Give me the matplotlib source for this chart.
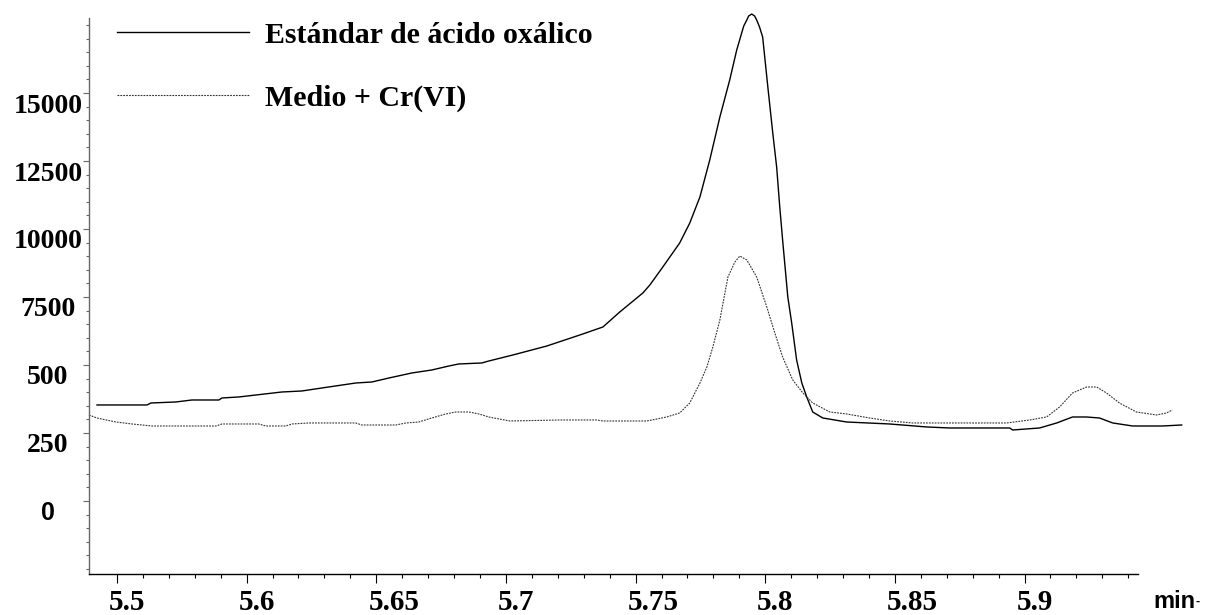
import numpy as np
import matplotlib.pyplot as plt
from matplotlib.transforms import ScaledTranslation

# Oxalic acid standard: retention time (min) and detector response
t_std = [5.5423, 5.5616, 5.5631, 5.5727, 5.5789, 5.5893, 5.5905, 5.5970, 5.6036,
         5.6136, 5.6213, 5.6290, 5.6421, 5.6483, 5.6549, 5.6637, 5.6714, 5.6780,
         5.6818, 5.6907, 5.6934, 5.7027, 5.7158, 5.7285, 5.7374, 5.7439, 5.7528,
         5.7555, 5.7605, 5.7670, 5.7709, 5.7748, 5.7786, 5.7825, 5.7863, 5.7890,
         5.7917, 5.7929, 5.7936, 5.7948, 5.7959, 5.7967, 5.7978, 5.7990, 5.8010,
         5.8029, 5.8044, 5.8056, 5.8067, 5.8087, 5.8102, 5.8121, 5.8141, 5.8160,
         5.8183, 5.8222, 5.8314, 5.8480, 5.8623, 5.8711, 5.8943, 5.8954, 5.9058,
         5.9124, 5.9185, 5.9239, 5.9289, 5.9340, 5.9417, 5.9532, 5.9606]
s_std = [3530, 3530, 3603, 3640, 3713, 3713, 3787, 3824, 3897,
         4007, 4044, 4154, 4338, 4375, 4522, 4706, 4816, 4963,
         5037, 5074, 5147, 5368, 5699, 6103, 6397, 6949, 7647,
         7941, 8603, 9485, 10221, 11176, 12537, 14118, 15478, 16581,
         17463, 17684, 17831, 17904, 17831, 17684, 17427, 17059, 15221,
         13529, 12279, 10809, 9596, 7500, 6544, 5184, 4338, 3824,
         3272, 3051, 2904, 2831, 2721, 2684, 2684, 2610, 2684,
         2868, 3088, 3088, 3051, 2868, 2757, 2757, 2794]

# Culture medium + Cr(VI)
t_med = [5.5392, 5.5423, 5.5496, 5.5558, 5.5635, 5.5882, 5.5905, 5.6047, 5.6074,
         5.6151, 5.6175, 5.6240, 5.6421, 5.6444, 5.6576, 5.6614, 5.6664, 5.6714,
         5.6768, 5.6807, 5.6857, 5.6896, 5.6934, 5.7015, 5.7208, 5.7350, 5.7374,
         5.7543, 5.7582, 5.7620, 5.7670, 5.7709, 5.7748, 5.7775, 5.7798, 5.7825,
         5.7856, 5.7883, 5.7902, 5.7929, 5.7967, 5.8006, 5.8037, 5.8067, 5.8106,
         5.8145, 5.8183, 5.8249, 5.8314, 5.8403, 5.8480, 5.8569, 5.8931, 5.9020,
         5.9085, 5.9135, 5.9185, 5.9239, 5.9278, 5.9316, 5.9366, 5.9431, 5.9509,
         5.9547, 5.9570]
s_med = [3162, 3051, 2904, 2831, 2757, 2757, 2831, 2831, 2757,
         2757, 2831, 2868, 2868, 2794, 2794, 2868, 2904, 3051,
         3199, 3272, 3272, 3199, 3088, 2941, 2978, 2978, 2941,
         2941, 3015, 3088, 3235, 3603, 4338, 4926, 5662, 6654,
         8235, 8787, 9007, 8860, 8235, 7132, 6176, 5294, 4449,
         3971, 3603, 3272, 3199, 3051, 2941, 2868, 2868, 2978,
         3088, 3456, 3971, 4191, 4191, 3971, 3603, 3272, 3162,
         3235, 3346]

xtick_pos = [5.55, 5.60, 5.65, 5.70, 5.75, 5.80, 5.85, 5.90]
xtick_lab = ['5.5', '5.6', '5.65', '5.7', '5.75', '5.8', '5.85', '5.9']
ytick_pos = [0, 2500, 5000, 7500, 10000, 12500, 15000]
ytick_lab = ['0', '250', '500', '7500', '10000', '12500', '15000']

serif = 'Liberation Serif'
sans = 'Liberation Sans'

fig = plt.figure(figsize=(12.07, 6.15), dpi=100)
ax = fig.add_axes([0.0737, 0.0667, 0.912, 0.904])

ax.plot(t_std, s_std, color='black', lw=1.0, clip_on=False,
        label='Estándar de ácido oxálico')
ax.plot(t_med, s_med, color='#333333', lw=0.8, ls=(0, (1.6, 1.0)),
        clip_on=False, label='Medio + Cr(VI)')

ax.set_xlim(5.5392, 5.9637)
ax.set_ylim(-2684, 17757)

for side in ('top', 'right'):
    ax.spines[side].set_visible(False)
ax.spines['bottom'].set_bounds(5.5392, 5.9436)
ax.spines['bottom'].set_linewidth(1.0)
ax.spines['left'].set_color('#666666')
ax.spines['left'].set_linewidth(1.0)

ax.set_xticks(xtick_pos)
ax.set_xticklabels(xtick_lab)
ax.set_xticks(np.round(np.arange(5.56, 5.945, 0.01), 2), minor=True)
ax.set_yticks(ytick_pos)
ax.set_yticklabels(ytick_lab)
ax.set_yticks(np.arange(-2500, 17501, 500), minor=True)

ax.tick_params(axis='x', which='major', direction='out', length=6.5, width=0.8,
               color='black', pad=4)
ax.tick_params(axis='x', which='minor', direction='out', length=3, width=0.8,
               color='black')
ax.tick_params(axis='y', which='major', direction='out', length=4.5, width=0.8,
               color='#666666', pad=25)
ax.tick_params(axis='y', which='minor', direction='out', length=2.2, width=0.8,
               color='#666666')

# x labels sit a little left-aligned off each tick
for lab in ax.get_xticklabels():
    lab.set_fontfamily(serif)
    lab.set_fontweight('bold')
    lab.set_fontsize(21)
    lab.set_horizontalalignment('left')
    lab.set_transform(lab.get_transform() +
                      ScaledTranslation(-8 / 100, 0, fig.dpi_scale_trans))

# y labels are centred in the margin and hang below their ticks
for lab in ax.get_yticklabels():
    if lab.get_text() == '0':
        lab.set_fontfamily(sans)
        lab.set_fontsize(18)
    else:
        lab.set_fontfamily(serif)
        lab.set_fontsize(20)
    lab.set_fontweight('bold')
    lab.set_horizontalalignment('center')
    lab.set_transform(lab.get_transform() +
                      ScaledTranslation(0, -10 / 100, fig.dpi_scale_trans))

ax.legend(loc='upper left', bbox_to_anchor=(0.0254, 0.9937), frameon=False,
          borderpad=0, borderaxespad=0, handlelength=4.42, handletextpad=0.55,
          labelspacing=1.2,
          prop={'family': serif, 'weight': 'bold', 'size': 21.5})

fig.text(0.9553, 0.0114, 'min', family=sans, weight='bold', fontsize=17,
         ha='left', va='baseline')
fig.text(0.9905, 0.021, '-', family=sans, weight='bold', fontsize=9,
         ha='left', va='center')

fig.savefig('out.png', dpi=100)
